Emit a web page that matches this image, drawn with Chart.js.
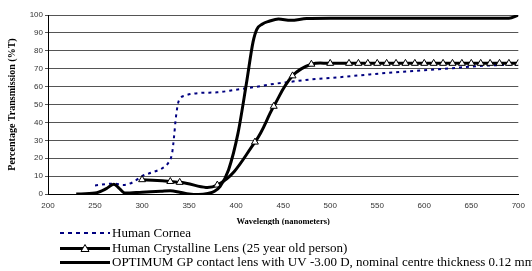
<!DOCTYPE html>
<html><head><meta charset="utf-8">
<script src="https://cdn.jsdelivr.net/npm/chart.js@4/dist/chart.umd.min.js"></script>
<style>html,body{margin:0;padding:0;background:#fff}#wrap{width:532px;height:271px}</style>
</head><body><div id="wrap"><canvas id="c" width="532" height="271"></canvas></div>
<script>
const seriesNames = ["Human Cornea","Human Crystalline Lens (25 year old person)","OPTIMUM GP contact lens with UV -3.00 D, nominal centre thickness 0.12 mm"];
const xTitle = "Wavelength (nanometers)";
const yTitle = "Percentage Transmission (%T)";

const corneaX = [250,270,280,290,300,310,320,328,332,334,336,339,346,360,380,400,420,440,460,480,500,530,560,600,630,650,670,700];
const corneaY = [4.8,5.8,5,6.5,10,12,14,17.5,23,32,43,52,55,56.4,56.8,58.3,59.8,61.5,62.8,64,64.8,66.2,67.6,69.1,70.3,71.2,71.8,72.3];

const lensX = [300,330,340,380,420,440,460,480,500,520,530,540,550,560,570,580,590,600,610,620,630,640,650,660,670,680,690,700];
const lensY = [8,7,6.5,5,29,49,66,72.5,73,73,73,73,73,73,73,73,73,73,73,73,73,73,73,73,73,73,73,73];

const optX = [230,250,262,270,276,282,300,320,330,340,350,360,370,377,383,392,402,411,418,422,428,435,445,458,475,500,690,700];
const optY = [0,0.5,3,5.5,3,0.5,1,1.5,1.8,1,0,-0.3,0.3,1.5,4.3,13.6,34,62,85,92,95,96.5,97.8,97,98,98.2,98.2,100];

const toPts = (xs, ys) => xs.map((x, i) => ({x: x, y: ys[i]}));

const legendPlugin = {
  id: 'customLegend',
  afterDraw(chart) {
    const ctx = chart.ctx;
    ctx.save();
    ctx.save();
    ctx.beginPath(); ctx.rect(0, 0, 532, 225); ctx.clip();
    ctx.font = 'bold 8.5px "Liberation Serif"';
    ctx.fillStyle = '#000'; ctx.textAlign = 'center'; ctx.textBaseline = 'middle';
    ctx.fillText(xTitle, (chart.chartArea.left + chart.chartArea.right) / 2, 222);
    ctx.restore();
    const rows = [233, 248.5, 262.5];
    const x0 = 60, x1 = 110;
    ctx.strokeStyle = '#000080'; ctx.lineWidth = 2; ctx.setLineDash([4, 4]);
    ctx.beginPath(); ctx.moveTo(x0, rows[0]); ctx.lineTo(x1, rows[0]); ctx.stroke();
    ctx.setLineDash([]);
    ctx.strokeStyle = '#000'; ctx.lineWidth = 3;
    ctx.beginPath(); ctx.moveTo(x0, rows[1]); ctx.lineTo(x1, rows[1]); ctx.stroke();
    ctx.lineWidth = 1; ctx.fillStyle = '#fff';
    ctx.beginPath(); ctx.moveTo(85, rows[1] - 4); ctx.lineTo(89, rows[1] + 3); ctx.lineTo(81, rows[1] + 3); ctx.closePath(); ctx.fill(); ctx.stroke();
    ctx.lineWidth = 3;
    ctx.beginPath(); ctx.moveTo(x0, rows[2]); ctx.lineTo(x1, rows[2]); ctx.stroke();
    ctx.font = '13px "Liberation Serif"'; ctx.fillStyle = '#000'; ctx.textAlign = 'left'; ctx.textBaseline = 'middle';
    seriesNames.forEach((n, i) => ctx.fillText(n, 112, rows[i] + 0.5));
    ctx.restore();
  }
};

new Chart(document.getElementById('c'), {
  type: 'line',
  data: {
    datasets: [
      {label: seriesNames[0], data: toPts(corneaX, corneaY), borderColor: '#000080', borderWidth: 2, borderDash: [3, 4], pointRadius: 0, cubicInterpolationMode: 'monotone', order: 3, fill: false},
      {label: seriesNames[1], data: toPts(lensX, lensY), borderColor: '#000', borderWidth: 3, tension: 0.4, pointStyle: 'triangle', pointRadius: 4, pointBorderWidth: 1, pointBackgroundColor: '#fff', pointBorderColor: '#000', order: 2, fill: false},
      {label: seriesNames[2], data: toPts(optX, optY), borderColor: '#000', borderWidth: 3, pointRadius: 0, cubicInterpolationMode: 'monotone', order: 1, fill: false}
    ]
  },
  options: {
    responsive: false, animation: false, devicePixelRatio: 1,
    layout: {padding: {left: 0, top: 15, right: 9, bottom: 0}},
    plugins: {legend: {display: false}, tooltip: {enabled: false}},
    scales: {
      x: {
        type: 'linear', min: 200, max: 700,
        afterFit(s) { s.height = 77; },
        grid: {display: false, drawTicks: false},
        border: {display: true, color: '#000', width: 1},
        ticks: {stepSize: 50, padding: 7, color: '#333', font: {family: 'Liberation Sans', size: 8}, maxRotation: 0}
      },
      y: {
        min: 0, max: 100,
        afterFit(s) { s.width = 48; },
        grid: {color: '#555', lineWidth: 1, tickLength: 3, drawTicks: true},
        border: {display: true, color: '#000', width: 1},
        ticks: {stepSize: 10, padding: 2, color: '#333', font: {family: 'Liberation Sans', size: 8}},
        title: {display: true, text: yTitle, color: '#000', font: {family: 'Liberation Serif', size: 10, weight: 'bold'}, padding: {top: 6, bottom: 0}}
      }
    }
  },
  plugins: [legendPlugin]
});
</script>
</body></html>
